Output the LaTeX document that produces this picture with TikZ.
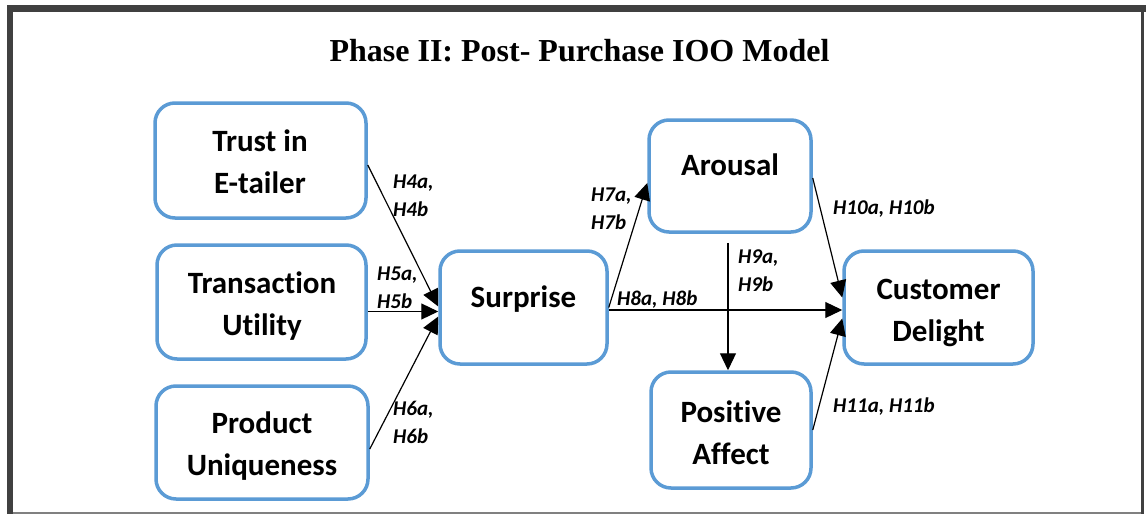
\documentclass[tikz,border=0pt]{standalone}
\usepackage{fontspec}
\setmainfont[Ligatures=NoCommon]{Carlito}
\newfontfamily\titlefont{Liberation Serif}
\usetikzlibrary{arrows.meta,calc}
\definecolor{boxblue}{HTML}{5B9BD5}
\definecolor{framegray}{HTML}{404040}
\begin{document}
\begin{tikzpicture}[x=1pt,y=-1pt,
  stage/.style={draw=boxblue,line width=3.5pt,rounded corners=20pt,rectangle,fill=white,inner sep=0pt},
  stagetext/.style={font=\fontsize{31}{42}\selectfont\bfseries,align=center,inner sep=0pt},
  hyp/.style={font=\fontsize{21}{28}\selectfont\bfseries\itshape,align=left,anchor=west,inner sep=0pt},
  link/.style={line width=1.2pt,-{Triangle[length=17pt,width=16pt]}}]
% canvas
\useasboundingbox (0,0) rectangle (1146,514);
\fill[white] (0,0) rectangle (1146,514);
% outer frame
\fill[framegray] (7,5) rectangle (1146,12);
\fill[framegray] (7,5) rectangle (13,514);
\fill[framegray] (1141,5) rectangle (1144,514);
\draw[gray,line width=1.5pt] (13,512.8) -- (1141,512.8);
% title
\node[font=\titlefont\fontsize{32}{38}\selectfont\bfseries,anchor=base,inner sep=0pt] (title) at (579.5,61) {Phase II: Post- Purchase IOO Model};
% construct boxes
\node[stage,minimum width=211pt,minimum height=115pt] (trust) at (260.5,160.5) {};
\node[stage,minimum width=209pt,minimum height=114pt] (trans) at (261.5,302) {};
\node[stage,minimum width=212pt,minimum height=113pt] (prod) at (262,442.5) {};
\node[stage,minimum width=167pt,minimum height=113pt] (surp) at (523.5,307.5) {};
\node[stage,minimum width=162pt,minimum height=112pt] (arou) at (730,176) {};
\node[stage,minimum width=160pt,minimum height=116pt] (posa) at (731,430) {};
\node[stage,minimum width=189pt,minimum height=113pt] (cust) at (938.5,307.5) {};
% box captions
\node[stagetext] (trust-t) at (260,162) {Trust in\\E-tailer};
\node[stagetext] (trans-t) at (262,306) {Transaction\\Utility};
\node[stagetext] (prod-t) at (262,446) {Product\\Uniqueness};
\node[stagetext,anchor=base] (surp-t) at (523.5,307) {Surprise};
\node[stagetext,anchor=base] (arou-t) at (730,175) {Arousal};
\node[stagetext] (posa-t) at (731,432.5) {Positive\\Affect};
\node[stagetext] (cust-t) at (938.5,313) {Customer\\Delight};
% paths between constructs
\draw[link] ($(trust.east)+(0,4.5)$) -- ($(surp.west)+(0,-1)$);
\draw[link] ($(trans.east)+(0,9.5)$) -- ($(surp.west)+(0,4)$);
\draw[link] ($(prod.east)+(0,6.5)$) -- ($(surp.west)+(0,9)$);
\draw[link] (surp.east) -- ($(arou.west)+(0,7)$);
\draw[link] ($(surp.east)+(0,2.5)$) -- ($(cust.west)+(0,2.5)$);
\draw[link] ($(arou.east)+(0,2)$) -- ($(cust.west)+(0,-10)$);
\draw[link] (posa.east) -- ($(cust.west)+(0,11)$);
\coordinate (h9top) at ($(arou.south)+(-2,9)$);
\draw[link] (h9top) -- (h9top |- posa.north);
% hypothesis labels
\node[hyp] (h4) at (393,196) {H4a,\\H4b};
\node[hyp] (h5) at (377,288) {H5a,\\H5b};
\node[hyp] (h6) at (393,422) {H6a,\\H6b};
\node[hyp] (h7) at (591,209) {H7a,\\H7b};
\node[hyp] (h8) at (617,300) {H8a, H8b};
\node[hyp] (h9) at (738,271) {H9a,\\H9b};
\node[hyp] (h10) at (833,209) {H10a, H10b};
\node[hyp] (h11) at (833,407) {H11a, H11b};
\end{tikzpicture}
\end{document}
